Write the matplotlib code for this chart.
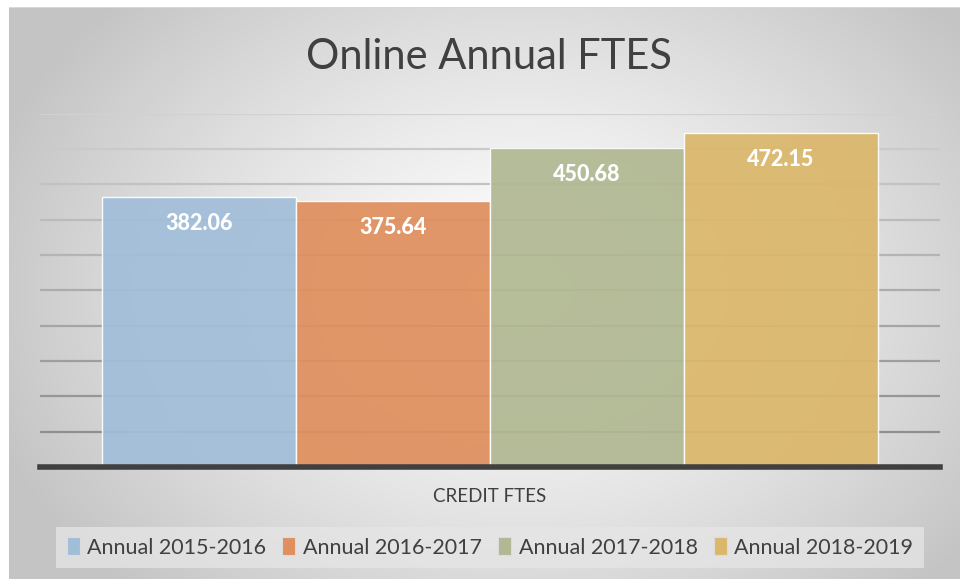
import numpy as np
import matplotlib
matplotlib.use("Agg")
import matplotlib.pyplot as plt
from matplotlib.patches import Patch

# ---- data ----
categories = ["CREDIT FTES"]
series = ["Annual 2015-2016", "Annual 2016-2017", "Annual 2017-2018", "Annual 2018-2019"]
values = [382.06, 375.64, 450.68, 472.15]
colors = ["#a1bed8", "#e08f5e", "#b1b892", "#dbb76b"]
title = "Online Annual FTES"

W, H = 960, 579
fig = plt.figure(figsize=(W / 100, H / 100), dpi=100)

# ---- background radial gradient ----
bg = fig.add_axes([0, 0, 1, 1])
yy, xx = np.mgrid[0:H, 0:W]
cx, cy = 520, 290
r = np.sqrt(((xx - cx) / 560.0) ** 2 + ((yy - cy) / 420.0) ** 2)
r = np.clip(r, 0, 1)
val = 1.0 - 0.23 * r ** 1.25
img = np.dstack([val, val, val])
img[:, :9, :] = 1.0
img[:7, :, :] = 1.0
img[7, 9:, :] = 0.85
bg.imshow(img, extent=[0, W, H, 0], aspect="auto", interpolation="bilinear")
bg.set_xlim(0, W)
bg.set_ylim(H, 0)
bg.axis("off")

# ---- main axes ----
left, right = 40 / W, 940 / W
bottom = (H - 467) / H
top = (H - 113.5) / H
ax = fig.add_axes([left, bottom, right - left, top - bottom])
ax.patch.set_alpha(0)
ax.set_ylim(0, 500)
m = 0.32
ax.set_xlim(-0.5 - m, 3.5 + m)
for s in ax.spines.values():
    s.set_visible(False)
ax.set_xticks([])
ax.set_yticks([])

# gridlines, lighter toward the top
grid_vals = np.arange(50, 501, 50)
for g in grid_vals:
    t = (g - 50) / 450.0
    c = 0.56 + (0.82 - 0.56) * t
    ax.axhline(g, color=(c, c, c), lw=1.6, zorder=1)

x = np.arange(len(series))
bars = ax.bar(x, values, width=1.0, color=colors, edgecolor="white", linewidth=1.0,
              alpha=0.93, zorder=2)
for xi, v in zip(x, values):
    ax.annotate(f"{v:.2f}", (xi, v), xytext=(0, -19), textcoords="offset points",
                ha="center", va="center", color="white", fontsize=15.5,
                fontweight="black", family="Lato", zorder=4)

ax.axhline(0, color="#404040", lw=4, zorder=3, clip_on=False)

# ---- texts ----
fig.text(489 / W, 1 - 57 / H, title, ha="center", va="center", fontsize=30,
         color="#404040", family="Lato")
fig.text(490 / W, 1 - 496 / H, categories[0], ha="center", va="center", fontsize=13.5,
         color="#404040", family="Lato")

# ---- legend ----
handles = [Patch(facecolor=c, edgecolor="#dcdcdc", linewidth=0.8) for c in colors]
leg = fig.legend(handles, series, loc="center", bbox_to_anchor=(490 / W, 1 - 547.5 / H),
                 ncol=4, frameon=True, fancybox=False, handlelength=0.6, handleheight=0.85,
                 handletextpad=0.35, columnspacing=0.75, borderpad=0.5,
                 prop={"family": "Lato", "size": 15.5}, labelcolor="#404040")
fr = leg.get_frame()
fr.set_facecolor("#e6e6e6")
fr.set_alpha(0.75)
fr.set_edgecolor("none")

fig.savefig("out.png", dpi=100)
